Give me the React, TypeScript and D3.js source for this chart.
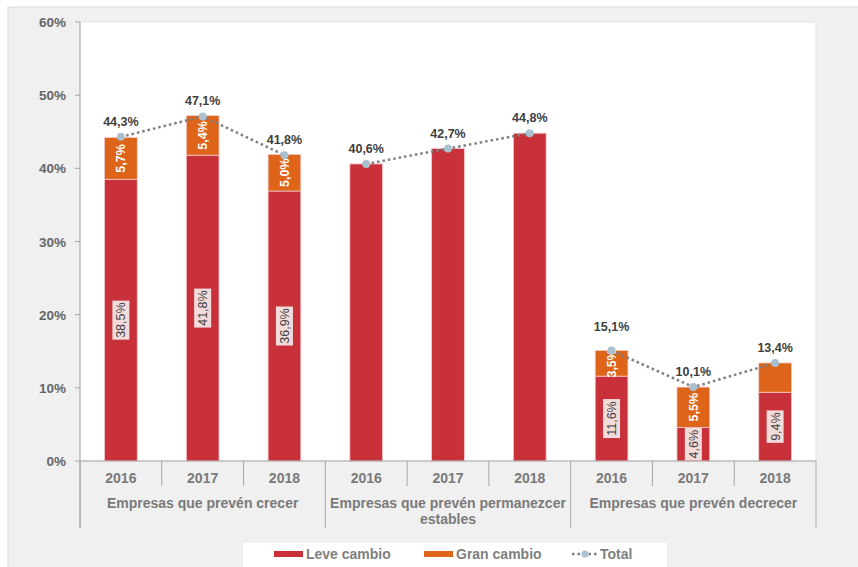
import React from "react";
import * as d3 from "d3";

const groups = [
  ["Empresas que prevén crecer"],
  ["Empresas que prevén permanezcer", "estables"],
  ["Empresas que prevén decrecer"],
];
const years = ["2016", "2017", "2018", "2016", "2017", "2018", "2016", "2017", "2018"];
const leve = [38.5, 41.8, 36.9, 40.6, 42.7, 44.8, 11.6, 4.6, 9.4];
const gran = [5.7, 5.4, 5.0, 0, 0, 0, 3.5, 5.5, 4.0];
const total = [44.3, 47.1, 41.8, 40.6, 42.7, 44.8, 15.1, 10.1, 13.4];
const leveLabels = ["38,5%", "41,8%", "36,9%", "", "", "", "11,6%", "4,6%", "9,4%"];
const granLabels = ["5,7%", "5,4%", "5,0%", "", "", "", "3,5%", "5,5%", ""];
const totalLabels = ["44,3%", "47,1%", "41,8%", "40,6%", "42,7%", "44,8%", "15,1%", "10,1%", "13,4%"];
const yTicks = [0, 10, 20, 30, 40, 50, 60];

const RED = "#C8313A";
const ORANGE = "#DD6418";
const FONT = "'Liberation Sans', Arial, sans-serif";

export default function App() {
  const left = 80, right = 816, top = 22, bottom = 461;
  const y = d3.scaleLinear().domain([0, 60]).range([bottom, top]);
  const idx = years.map((_, i) => i);
  const x = d3.scaleBand<number>().domain(idx).range([left, right]).paddingInner(0.6).paddingOuter(0.3);
  const step = x.step();
  const bw = x.bandwidth();
  const cx = (i: number) => (x(i) as number) + bw / 2;

  const line = d3.line<number>().x((i) => cx(i)).y((i) => y(total[i]));
  const segs = [0, 1, 2].map((g) => [g * 3, g * 3 + 1, g * 3 + 2]);

  return (
    <svg width={858} height={567} style={{ position: "absolute", left: 0, top: 0 }} fontFamily={FONT}>
      <rect x={0} y={0} width={858} height={567} fill="#ffffff" />
      <rect x={8} y={7} width={860} height={570} fill="#f0f0f0" stroke="#d9d9d9" strokeWidth={1} />
      <rect x={left} y={top} width={right - left} height={bottom - top} fill="#ffffff" stroke="#e3e3e3" strokeWidth={1} />

      {/* y axis */}
      <line x1={left} x2={left} y1={top} y2={528} stroke="#a6a6a6" strokeWidth={1} />
      {yTicks.map((t) => (
        <g key={t}>
          <line x1={left - 5} x2={left} y1={y(t)} y2={y(t)} stroke="#a6a6a6" />
          <text x={66} y={y(t) + 5} textAnchor="end" fontSize={13.5} fontWeight="bold" fill="#666666">
            {t}%
          </text>
        </g>
      ))}

      {/* bars */}
      {idx.map((i) => (
        <g key={i}>
          <rect x={x(i)} y={y(leve[i])} width={bw} height={bottom - y(leve[i])} fill={RED} stroke="#f3c9c9" strokeWidth={0.8} />
          {gran[i] > 0 && (
            <rect x={x(i)} y={y(leve[i] + gran[i])} width={bw} height={y(leve[i]) - y(leve[i] + gran[i])} fill={ORANGE} stroke="#f3c9c9" strokeWidth={0.8} />
          )}
        </g>
      ))}

      {/* x axis */}
      <line x1={left} x2={right} y1={bottom} y2={bottom} stroke="#a6a6a6" />
      {d3.range(10).map((k) => {
        const xx = left + step * k;
        const big = k % 3 === 0;
        return <line key={k} x1={xx} x2={xx} y1={bottom} y2={big ? 528 : 486} stroke="#a6a6a6" />;
      })}
      {idx.map((i) => (
        <text key={i} x={cx(i)} y={483} textAnchor="middle" fontSize={14} fontWeight="bold" fill="#7a7a7a">
          {years[i]}
        </text>
      ))}
      {groups.map((lines, g) => (
        <text key={g} x={left + step * (g * 3 + 1.5)} y={508} textAnchor="middle" fontSize={14} fontWeight="bold" fill="#7a7a7a">
          {lines.map((l, j) => (
            <tspan key={j} x={left + step * (g * 3 + 1.5)} dy={j === 0 ? 0 : 16}>
              {l}
            </tspan>
          ))}
        </text>
      ))}

      {/* leve labels */}
      {idx.map((i) => {
        if (!leveLabels[i]) return null;
        const my = (y(leve[i]) + bottom) / 2;
        const w = leveLabels[i].length * 6.6 + 6;
        return (
          <g key={i} transform={`translate(${cx(i)},${my}) rotate(-90)`}>
            <rect x={-w / 2} y={-8.5} width={w} height={17} fill="#F2DCDB" />
            <text x={0} y={4.5} textAnchor="middle" fontSize={12.5} fill="#404040">
              {leveLabels[i]}
            </text>
          </g>
        );
      })}
      {/* gran labels */}
      {idx.map((i) => {
        if (!granLabels[i]) return null;
        const my = (y(leve[i]) + y(leve[i] + gran[i])) / 2;
        return (
          <text key={i} transform={`translate(${cx(i) + 4.5},${my}) rotate(-90)`} textAnchor="middle" fontSize={12.5} fontWeight="bold" fill="#ffffff">
            {granLabels[i]}
          </text>
        );
      })}

      {/* total line */}
      {segs.map((s, g) => (
        <path key={g} d={line(s) || ""} fill="none" stroke="#7f7f7f" strokeWidth={2.5} strokeDasharray="2.5 3" />
      ))}
      {idx.map((i) => (
        <circle key={i} cx={cx(i)} cy={y(total[i])} r={4} fill="#A9C1CE" />
      ))}
      {idx.map((i) => (
        <text key={i} x={cx(i)} y={y(total[i]) - (i === 6 ? 20 : 11)} textAnchor="middle" fontSize={12.5} fontWeight="bold" fill="#404040">
          {totalLabels[i]}
        </text>
      ))}

      {/* legend */}
      <rect x={243} y={543} width={424} height={30} fill="#ffffff" />
      <rect x={274} y={551} width={29} height={6} fill={RED} />
      <text x={306} y={559} fontSize={14} fontWeight="bold" fill="#7f7f7f">Leve cambio</text>
      <rect x={424} y={551} width={29} height={6} fill={ORANGE} />
      <text x={456} y={559} fontSize={14} fontWeight="bold" fill="#7f7f7f">Gran cambio</text>
      <line x1={572} x2={597} y1={554} y2={554} stroke="#7f7f7f" strokeWidth={2.5} strokeDasharray="2.5 3" />
      <circle cx={585} cy={554} r={3.5} fill="#A9C1CE" />
      <text x={600} y={559} fontSize={14} fontWeight="bold" fill="#7f7f7f">Total</text>
    </svg>
  );
}
